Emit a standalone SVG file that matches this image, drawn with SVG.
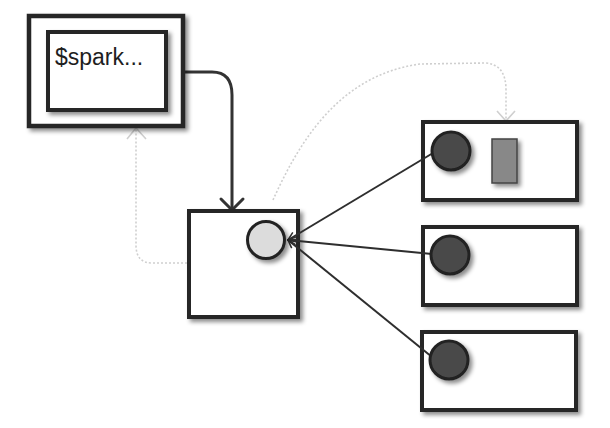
<svg xmlns="http://www.w3.org/2000/svg" width="610" height="428" viewBox="0 0 610 428">
<style>
.box{fill:#fff;stroke:#262626;stroke-width:4;filter:url(#sh)}
.dark{fill:#4a4a4a;stroke:#222;stroke-width:3;filter:url(#sh)}
.light{fill:#dcdcdc;stroke:#222;stroke-width:3;filter:url(#sh)}
.wire{fill:none;stroke:#2e2e2e;stroke-width:2;marker-start:url(#tip)}
.heavy{fill:none;stroke:#333;stroke-width:3;stroke-linecap:round;stroke-linejoin:round}
.faint{fill:none;stroke:#cfcfcf;stroke-width:1.6;stroke-dasharray:2 2}
.faintHead{fill:none;stroke:#cfcfcf;stroke-width:1.6}
.label{font-family:"Liberation Sans","DejaVu Sans",sans-serif;font-size:23px;fill:#1e1e1e}
</style>
<defs>
<filter id="sh" x="-20%" y="-20%" width="150%" height="150%">
<feDropShadow dx="3" dy="3" stdDeviation="2.2" flood-color="#000" flood-opacity="0.45"/>
</filter>
<marker id="tip" viewBox="0 0 10 10" refX="1" refY="5" markerWidth="10" markerHeight="10" markerUnits="userSpaceOnUse" orient="auto">
<path d="M9,1 L1,5 L9,9" fill="none" stroke="#2e2e2e" stroke-width="1.5"/>
</marker>
</defs>
<rect width="610" height="428" fill="#fff"/>
<g id="connectors">
<path class="faint" d="M273,200 C300,140 340,75 420,64 L485,63 Q506,64 506,90 L506,120"/>
<polyline class="faintHead" points="497,111 506,121 515,111"/>
<path class="faint" d="M187,263 L152,263 Q136,263 136,245 L136,130"/>
<polyline class="faintHead" points="127,139 136,128 146,139"/>
<path class="heavy" d="M184,72 L212,72 Q232,72 232,95 L232,209"/>
<polyline class="heavy" points="221,199 232,210 243,199"/>
</g>
<g id="outer-box">
<rect class="box" x="29" y="16" width="154" height="110" style="stroke-width:4.5"/>
</g>
<g id="inner-box">
<rect class="box" x="48" y="32" width="118" height="78"/>
<text class="label" x="55" y="65">$spark...</text>
</g>
<g id="middle-box">
<rect class="box" x="189" y="211" width="109" height="106"/>
</g>
<g id="worker-1">
<rect class="box" x="423" y="122" width="154" height="78"/>
</g>
<g id="worker-2">
<rect class="box" x="423" y="227" width="154" height="78"/>
</g>
<g id="worker-3">
<rect class="box" x="422" y="332" width="154" height="78"/>
</g>
<g id="wires">
<line class="wire" x1="288" y1="240" x2="433" y2="153"/>
<line class="wire" x1="288" y1="240" x2="432" y2="254"/>
<line class="wire" x1="288" y1="240" x2="432" y2="357"/>
</g>
<g id="driver-dot">
<circle class="light" cx="266" cy="240" r="18.5"/>
</g>
<g id="worker-1-dot">
<circle class="dark" cx="451" cy="151" r="19"/>
<rect x="492" y="139" width="25" height="44" fill="#888" stroke="#444" stroke-width="1.5" style="filter:url(#sh)"/>
</g>
<g id="worker-2-dot">
<circle class="dark" cx="450" cy="255" r="19"/>
</g>
<g id="worker-3-dot">
<circle class="dark" cx="449" cy="360" r="19"/>
</g>
</svg>
